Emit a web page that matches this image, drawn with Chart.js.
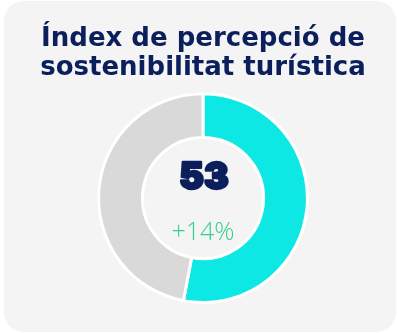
<!DOCTYPE html>
<html>
<head>
<meta charset="utf-8">
<script src="https://cdn.jsdelivr.net/npm/chart.js@4/dist/chart.umd.min.js"></script>
<style>
  html, body { margin: 0; padding: 0; background: #ffffff; }
  #wrap { position: relative; width: 398px; height: 334px; }
  #card { position: absolute; left: 4px; top: 1px; width: 392px; height: 331px;
          background: #f4f4f4; border-radius: 20px; }
  #c { position: absolute; left: 0; top: 0; }
</style>
</head>
<body>
<div id="wrap">
  <div id="card"></div>
  <canvas id="c" width="398" height="334"></canvas>
</div>
<script>
const titleLines = ['Índex de percepció de', 'sostenibilitat turística'];
const categories = ['Índex', 'Resta'];
const values = [53, 47];
const changeLabel = '+14%';
const colors = ['#0de8e4', '#d9d9d9'];

const navy = '#0b1f5c';
const green = '#34d08c';

// Score and change drawn in the hole of the ring
const centerText = {
  id: 'centerText',
  afterDatasetsDraw(chart) {
    const arc = chart.getDatasetMeta(0).data[0];
    if (!arc) return;
    const { x, y } = arc.getProps(['x', 'y'], true);
    const ctx = chart.ctx;
    ctx.save();
    ctx.textAlign = 'center';
    ctx.textBaseline = 'middle';
    ctx.fillStyle = navy;
    ctx.strokeStyle = navy;
    ctx.lineWidth = 2.5;
    ctx.lineJoin = 'round';
    ctx.font = '900 37px Inter, Lato, sans-serif';
    ctx.fillText(String(values[0]), x + 1, y - 20);
    ctx.strokeText(String(values[0]), x + 1, y - 20);
    ctx.fillStyle = green;
    ctx.font = '300 25px "Open Sans", Lato, sans-serif';
    ctx.fillText(changeLabel, x, y + 35);
    ctx.restore();
  }
};

new Chart(document.getElementById('c'), {
  type: 'doughnut',
  data: {
    labels: categories,
    datasets: [{
      data: values,
      backgroundColor: colors,
      borderColor: '#ffffff',
      borderWidth: 3
    }]
  },
  options: {
    responsive: false,
    animation: false,
    cutout: '58%',
    layout: { padding: { top: 0, bottom: 30, left: 8, right: 0 } },
    plugins: {
      legend: { display: false },
      tooltip: { enabled: false },
      title: {
        display: true,
        text: titleLines,
        color: navy,
        font: { family: '"DejaVu Sans", sans-serif', size: 26, weight: 'bold', lineHeight: 1.1 },
        padding: { top: 25, bottom: 10 }
      }
    }
  },
  plugins: [centerText]
});
</script>
</body>
</html>
